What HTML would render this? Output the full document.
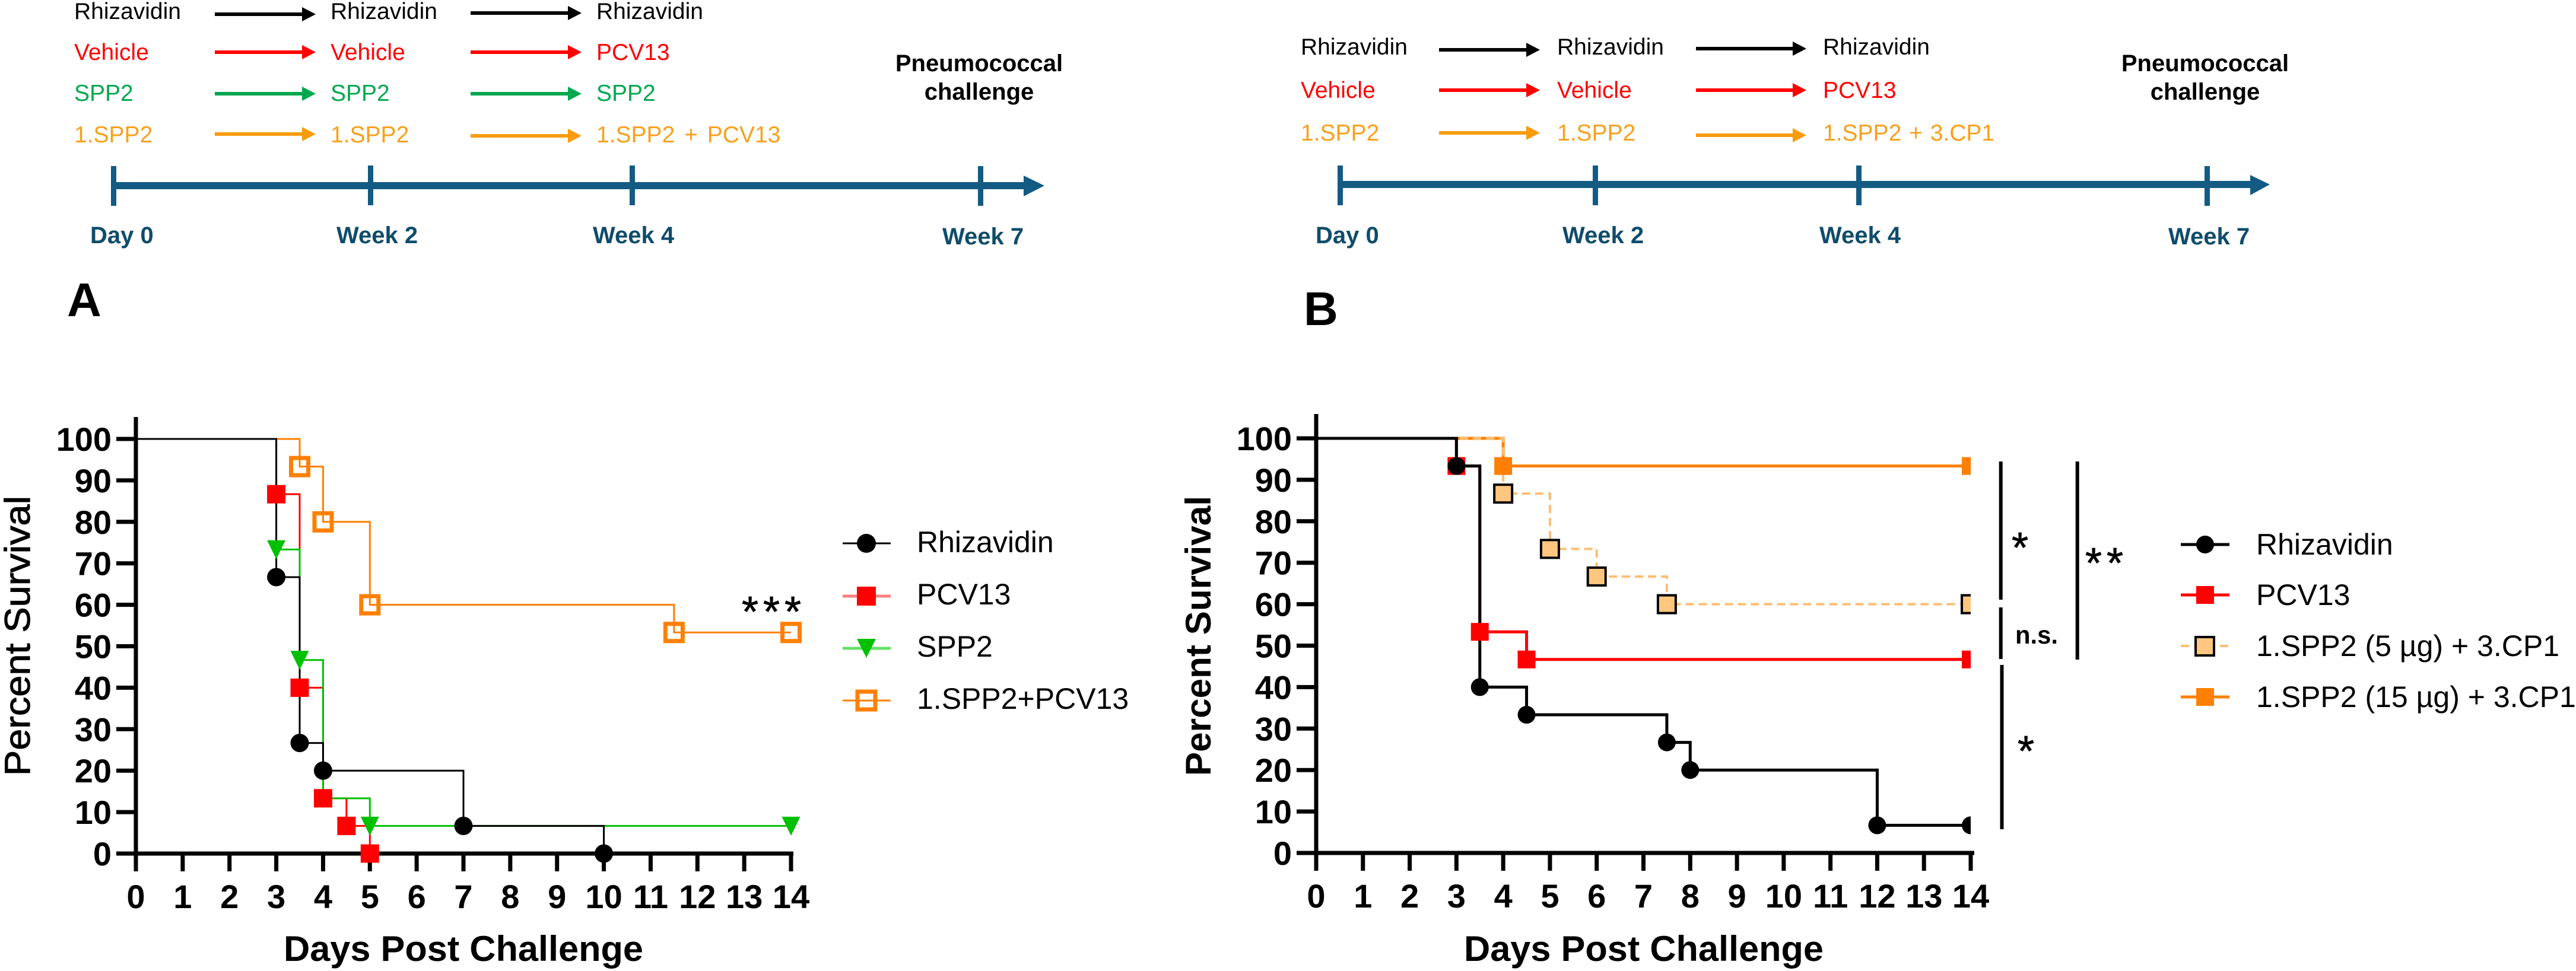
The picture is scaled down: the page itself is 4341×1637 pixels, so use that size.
<!DOCTYPE html>
<html lang="en">
<head>
<meta charset="utf-8">
<title>Pneumococcal challenge survival</title>
<style>
html,body{margin:0;padding:0;background:#fff;width:4341px;height:1637px;overflow:hidden}
svg{position:absolute;left:0;top:0;display:block}
text{font-family:"Liberation Sans",Arial,sans-serif}
.sch{font-size:39px}
.blk{fill:#000}.red{fill:#f00}.grn{fill:#00a84f}.org{fill:#f8a01c}
.tl{font-size:40px;font-weight:700;fill:#0f4c6b}
.pn{font-size:40px;font-weight:700;fill:#000;text-anchor:middle}
.pl{font-size:80px;font-weight:700;fill:#000}
.ast{font-size:72px;fill:#000;stroke:#000;stroke-width:.8px;letter-spacing:8px}
</style>
</head>
<body>
<svg id="fig" xmlns="http://www.w3.org/2000/svg" width="4341" height="1637" viewBox="0 0 4341 1637">
<defs>
<marker id="hK" markerUnits="userSpaceOnUse" markerWidth="24" markerHeight="24" refX="1" refY="12" orient="auto"><path d="M0 0L23 12L0 24Z" fill="#000"/></marker>
<marker id="hR" markerUnits="userSpaceOnUse" markerWidth="24" markerHeight="24" refX="1" refY="12" orient="auto"><path d="M0 0L23 12L0 24Z" fill="#f00"/></marker>
<marker id="hG" markerUnits="userSpaceOnUse" markerWidth="24" markerHeight="24" refX="1" refY="12" orient="auto"><path d="M0 0L23 12L0 24Z" fill="#00a84f"/></marker>
<marker id="hO" markerUnits="userSpaceOnUse" markerWidth="24" markerHeight="24" refX="1" refY="12" orient="auto"><path d="M0 0L23 12L0 24Z" fill="#f89c0e"/></marker>
<clipPath id="clipB"><rect x="2100" y="680" width="1221" height="800"/></clipPath>
</defs>

<g id="schedule-a">
<text class="sch blk" x="125" y="32">Rhizavidin</text>
<text class="sch blk" x="557" y="32">Rhizavidin</text>
<text class="sch blk" x="1005" y="32">Rhizavidin</text>
<text class="sch red" x="125" y="101">Vehicle</text>
<text class="sch red" x="557" y="101">Vehicle</text>
<text class="sch red" x="1005" y="101">PCV13</text>
<text class="sch grn" x="125" y="170">SPP2</text>
<text class="sch grn" x="557" y="170">SPP2</text>
<text class="sch grn" x="1005" y="170">SPP2</text>
<text class="sch org" x="125" y="240">1.SPP2</text>
<text class="sch org" x="557" y="240">1.SPP2</text>
<text class="sch org" x="1005" y="240" word-spacing="5">1.SPP2 + PCV13</text>
<line x1="362" y1="24" x2="510" y2="24" stroke="#000" stroke-width="6" marker-end="url(#hK)"/>
<line x1="793" y1="22" x2="958" y2="22" stroke="#000" stroke-width="6" marker-end="url(#hK)"/>
<line x1="362" y1="88" x2="510" y2="88" stroke="#f00" stroke-width="6" marker-end="url(#hR)"/>
<line x1="793" y1="88" x2="958" y2="88" stroke="#f00" stroke-width="6" marker-end="url(#hR)"/>
<line x1="362" y1="158" x2="510" y2="158" stroke="#00a84f" stroke-width="6" marker-end="url(#hG)"/>
<line x1="793" y1="158" x2="958" y2="158" stroke="#00a84f" stroke-width="6" marker-end="url(#hG)"/>
<line x1="362" y1="226" x2="510" y2="226" stroke="#f89c0e" stroke-width="6" marker-end="url(#hO)"/>
<line x1="793" y1="229" x2="958" y2="229" stroke="#f89c0e" stroke-width="6" marker-end="url(#hO)"/>
<rect x="191" y="307" width="1535" height="12" fill="#135b82"/>
<path d="M1725 296L1760 313L1725 331Z" fill="#135b82"/>
<rect x="187" y="280" width="9" height="67" fill="#135b82"/>
<rect x="620" y="279" width="9" height="67" fill="#135b82"/>
<rect x="1061" y="279" width="9" height="67" fill="#135b82"/>
<rect x="1648" y="280" width="9" height="67" fill="#135b82"/>
<text class="tl" x="152" y="410">Day 0</text>
<text class="tl" x="567" y="410">Week 2</text>
<text class="tl" x="999" y="410">Week 4</text>
<text class="tl" x="1588" y="412">Week 7</text>
<text class="pn" x="1650" y="120">Pneumococcal</text>
<text class="pn" x="1650" y="168">challenge</text>
<text class="pl" x="113" y="533">A</text>
</g>

<g id="schedule-b">
<text class="sch blk" x="2192" y="92">Rhizavidin</text>
<text class="sch blk" x="2624" y="92">Rhizavidin</text>
<text class="sch blk" x="3072" y="92">Rhizavidin</text>
<text class="sch red" x="2192" y="165">Vehicle</text>
<text class="sch red" x="2624" y="165">Vehicle</text>
<text class="sch red" x="3072" y="165">PCV13</text>
<text class="sch org" x="2192" y="237">1.SPP2</text>
<text class="sch org" x="2624" y="237">1.SPP2</text>
<text class="sch org" x="3072" y="237" word-spacing="2">1.SPP2 + 3.CP1</text>
<line x1="2425" y1="84" x2="2573" y2="84" stroke="#000" stroke-width="6" marker-end="url(#hK)"/>
<line x1="2858" y1="82" x2="3022" y2="82" stroke="#000" stroke-width="6" marker-end="url(#hK)"/>
<line x1="2425" y1="152" x2="2573" y2="152" stroke="#f00" stroke-width="6" marker-end="url(#hR)"/>
<line x1="2858" y1="152" x2="3022" y2="152" stroke="#f00" stroke-width="6" marker-end="url(#hR)"/>
<line x1="2425" y1="224" x2="2573" y2="224" stroke="#f89c0e" stroke-width="6" marker-end="url(#hO)"/>
<line x1="2858" y1="228" x2="3022" y2="228" stroke="#f89c0e" stroke-width="6" marker-end="url(#hO)"/>
<rect x="2258" y="305" width="1536" height="12" fill="#135b82"/>
<path d="M3792 295L3825 311L3792 329Z" fill="#135b82"/>
<rect x="2254" y="279" width="9" height="67" fill="#135b82"/>
<rect x="2684" y="279" width="9" height="67" fill="#135b82"/>
<rect x="3128" y="279" width="9" height="67" fill="#135b82"/>
<rect x="3715" y="280" width="9" height="67" fill="#135b82"/>
<text class="tl" x="2217" y="410">Day 0</text>
<text class="tl" x="2633" y="410">Week 2</text>
<text class="tl" x="3066" y="410">Week 4</text>
<text class="tl" x="3654" y="412">Week 7</text>
<text class="pn" x="3716" y="120">Pneumococcal</text>
<text class="pn" x="3716" y="168">challenge</text>
<text class="pl" x="2197" y="548">B</text>
</g>

<g id="chart-a"></g>
<g id="chart-b"></g>

<g>
<line x1="1420" y1="916" x2="1501" y2="916" stroke="#000" stroke-width="3"/>
<circle cx="1460" cy="916" r="16" fill="#000"/>
<text x="1545" y="931" font-size="50">Rhizavidin</text>
<line x1="1420" y1="1005" x2="1501" y2="1005" stroke="#ff7f7f" stroke-width="5"/>
<rect x="1444" y="989" width="32" height="32" fill="#f00"/>
<text x="1545" y="1019" font-size="50">PCV13</text>
<line x1="1420" y1="1093" x2="1501" y2="1093" stroke="#66e066" stroke-width="5"/>
<path d="M1444 1077H1476L1460 1109Z" fill="#00c000"/>
<text x="1545" y="1107" font-size="50">SPP2</text>
<line x1="1420" y1="1181" x2="1501" y2="1181" stroke="#ff8000" stroke-width="3"/>
<rect x="1445" y="1166" width="30" height="30" fill="none" stroke="#ff8000" stroke-width="7"/>
<text x="1545" y="1195" font-size="50">1.SPP2+PCV13</text>
</g>
<text class="ast" x="1250" y="1056">***</text>

<g>
<line x1="3675" y1="918" x2="3757" y2="918" stroke="#000" stroke-width="5"/>
<circle cx="3716" cy="918" r="15" fill="#000"/>
<text x="3802" y="935" font-size="50">Rhizavidin</text>
<line x1="3675" y1="1003" x2="3757" y2="1003" stroke="#f00" stroke-width="5"/>
<rect x="3701" y="988" width="30" height="30" fill="#f00"/>
<text x="3802" y="1020" font-size="50">PCV13</text>
<line x1="3675" y1="1089" x2="3757" y2="1089" stroke="#fdbe73" stroke-width="4" stroke-dasharray="14 8"/>
<rect x="3700" y="1074" width="31" height="31" fill="#ffc680" stroke="#000" stroke-width="4"/>
<text x="3802" y="1106" font-size="50">1.SPP2 (5 µg) + 3.CP1</text>
<line x1="3675" y1="1175" x2="3757" y2="1175" stroke="#ff8000" stroke-width="5"/>
<rect x="3701" y="1160" width="30" height="30" fill="#ff8000"/>
<text x="3802" y="1192" font-size="50">1.SPP2 (15 µg) + 3.CP1</text>
</g>

<g>
<line x1="3371.7" y1="778" x2="3371.7" y2="1011" stroke="#000" stroke-width="6"/>
<line x1="3371.7" y1="1024" x2="3371.7" y2="1111" stroke="#000" stroke-width="6"/>
<line x1="3373.5" y1="1121" x2="3373.5" y2="1398" stroke="#000" stroke-width="6"/>
<line x1="3500.7" y1="778" x2="3500.7" y2="1112" stroke="#000" stroke-width="6"/>
<text class="ast" x="3390" y="948">*</text>
<text class="ast" x="3514" y="974">**</text>
<text class="ast" x="3400" y="1291">*</text>
<text x="3396" y="1085" font-size="43" font-weight="700" textLength="72" lengthAdjust="spacingAndGlyphs">n.s.</text>
</g>
</svg>

<script>
var NS = "http://www.w3.org/2000/svg";

var xTickLabels = [0,1,2,3,4,5,6,7,8,9,10,11,12,13,14];
var yTickLabels = [0,10,20,30,40,50,60,70,80,90,100];

var aRhizavidinDays = [0,3,3.5,4,7,10];
var aRhizavidinSurvival = [100,66.67,26.67,20,6.67,0];
var aPcv13Days = [0,3,3.5,4,4.5,5];
var aPcv13Survival = [100,86.67,40,13.33,6.67,0];
var aSpp2Days = [0,3,3.5,4,5,14];
var aSpp2Survival = [100,73.33,46.67,13.33,6.67,6.67];
var aComboDays = [0,3.5,4,5,11.5,14];
var aComboSurvival = [100,93.33,80,60,53.33,53.33];

var bRhizavidinDays = [0,3,3.5,4.5,7.5,8,12,14];
var bRhizavidinSurvival = [100,93.33,40,33.33,26.67,20,6.67,6.67];
var bPcv13Days = [0,3,3.5,4.5,14];
var bPcv13Survival = [100,93.33,53.33,46.67,46.67];
var b5ugDays = [0,4,5,6,7.5,14];
var b5ugSurvival = [100,86.67,73.33,66.67,60,60];
var b15ugDays = [0,4,14];
var b15ugSurvival = [100,93.33,93.33];

function make(tag, parent, attrs) {
  var el = document.createElementNS(NS, tag);
  for (var k in attrs) { el.setAttribute(k, attrs[k]); }
  parent.appendChild(el);
  return el;
}

function stepPath(days, surv, sx, sy) {
  var d = "M" + sx(days[0]) + " " + sy(surv[0]);
  for (var i = 1; i < days.length; i++) {
    d += "H" + sx(days[i]) + "V" + sy(surv[i]);
  }
  return d;
}

function drawMarkers(group, series, sx, sy) {
  for (var i = 1; i < series.days.length; i++) {
    var cx = sx(series.days[i]);
    var cy = sy(series.surv[i]);
    var m;
    var s = series.size;
    if (series.shape === "circle") {
      m = make("circle", group, {cx: cx, cy: cy, r: s / 2, fill: series.fill});
    } else if (series.shape === "triangle") {
      m = make("path", group, {d: "M" + (cx - s / 2) + " " + (cy - s / 2) + "h" + s + "L" + cx + " " + (cy + s / 2 + 1) + "Z", fill: series.fill});
    } else {
      m = make("rect", group, {x: cx - s / 2, y: cy - s / 2, width: s, height: s, fill: series.fill, stroke: series.edge || "none", "stroke-width": series.edgeWidth || 0});
    }
    
    
  }
}

function drawChart(cfg) {
  var root = document.getElementById(cfg.id);
  var sx = function (v) { return cfg.x0 + (cfg.x14 - cfg.x0) * v / 14; };
  var sy = function (v) { return cfg.y0 + (cfg.y100 - cfg.y0) * v / 100; };

  var axisX = make("line", root, {x1: cfg.x0 - 3.5, y1: sy(0), x2: cfg.xEnd, y2: sy(0), stroke: "#000", "stroke-width": 7});
  
  
  var axisY = make("line", root, {x1: cfg.x0, y1: cfg.yTop, x2: cfg.x0, y2: sy(0) + 30, stroke: "#000", "stroke-width": 7});
  
  

  xTickLabels.forEach(function (v) {
    var t = make("line", root, {x1: sx(v), y1: sy(0), x2: sx(v), y2: sy(0) + 30, stroke: "#000", "stroke-width": 7});
    
    
    var l = make("text", root, {x: sx(v), y: sy(0) + 92, "font-size": 56, "font-weight": 700, "text-anchor": "middle"});
    l.textContent = v;
    
    
  });
  yTickLabels.forEach(function (v) {
    var t = make("line", root, {x1: cfg.x0 - 33, y1: sy(v), x2: cfg.x0, y2: sy(v), stroke: "#000", "stroke-width": 7});
    
    
    var l = make("text", root, {x: cfg.x0 - 41, y: sy(v) + 20, "font-size": 56, "font-weight": 700, "text-anchor": "end"});
    l.textContent = v;
    
    
  });

  var xt = make("text", root, {x: cfg.xTitleX, y: 1620, "font-size": 60, "font-weight": 700, textLength: 606, lengthAdjust: "spacingAndGlyphs"});
  xt.textContent = "Days Post Challenge";
  
  
  var yAttrs = {x: 0, y: 0, "font-size": 60, "font-weight": cfg.yTitleWeight, textLength: 472, lengthAdjust: "spacingAndGlyphs", "text-anchor": "middle", transform: "translate(" + cfg.yTitleX + " 1072) rotate(-90)"};
  if (cfg.yTitleStroke) { yAttrs.stroke = "#000"; yAttrs["stroke-width"] = cfg.yTitleStroke; }
  var yt = make("text", root, yAttrs);
  yt.textContent = "Percent Survival";
  
  

  var plot = make("g", root, cfg.clip ? {"clip-path": cfg.clip} : {});
  
  
  cfg.lines.forEach(function (s) {
    var p = make("path", plot, {d: stepPath(s.days, s.surv, sx, sy), fill: "none", stroke: s.color, "stroke-width": s.width});
    if (s.dash) { p.setAttribute("stroke-dasharray", s.dash); }
    
    
  });
  cfg.markers.forEach(function (s) { drawMarkers(plot, s, sx, sy); });
}

var aBlack = {name: "rhizavidin", days: aRhizavidinDays, surv: aRhizavidinSurvival, color: "#000", width: 3, shape: "circle", size: 31, fill: "#000"};
var aRed = {name: "pcv13", days: aPcv13Days, surv: aPcv13Survival, color: "#f00", width: 3, shape: "square", size: 31, fill: "#f00"};
var aGreen = {name: "spp2", days: aSpp2Days, surv: aSpp2Survival, color: "#00c000", width: 3, shape: "triangle", size: 31, fill: "#00c000"};
var aOrange = {name: "spp2-pcv13", days: aComboDays, surv: aComboSurvival, color: "#ff8000", width: 3, shape: "square", size: 29, fill: "none", edge: "#ff8000", edgeWidth: 7};

drawChart({
  id: "chart-a", x0: 229, x14: 1333, xEnd: 1337, y0: 1439, y100: 740, yTop: 703,
  xTitleX: 478, yTitleX: 50, yTitleWeight: 400, yTitleStroke: 1,
  lines: [aOrange, aRed, aGreen, aBlack],
  markers: [aOrange, aGreen, aRed, aBlack]
});

var bBlack = {name: "rhizavidin", days: bRhizavidinDays, surv: bRhizavidinSurvival, color: "#000", width: 5, shape: "circle", size: 30, fill: "#000"};
var bRed = {name: "pcv13", days: bPcv13Days, surv: bPcv13Survival, color: "#f00", width: 5, shape: "square", size: 30, fill: "#f00"};
var bLight = {name: "spp2-5ug", days: b5ugDays, surv: b5ugSurvival, color: "#fdbe73", width: 4, dash: "14 8", shape: "square", size: 30, fill: "#ffc680", edge: "#000", edgeWidth: 4};
var bOrange = {name: "spp2-15ug", days: b15ugDays, surv: b15ugSurvival, color: "#ff8000", width: 5, shape: "square", size: 30, fill: "#ff8000"};

drawChart({
  id: "chart-b", x0: 2218, x14: 3321, xEnd: 3327, y0: 1438, y100: 739, yTop: 698,
  xTitleX: 2467, yTitleX: 2040, yTitleWeight: 700, yTitleStroke: 0,
  clip: "url(#clipB)",
  lines: [bOrange, bLight, bRed, bBlack],
  markers: [bOrange, bLight, bRed, bBlack]
});
</script>
</body>
</html>
